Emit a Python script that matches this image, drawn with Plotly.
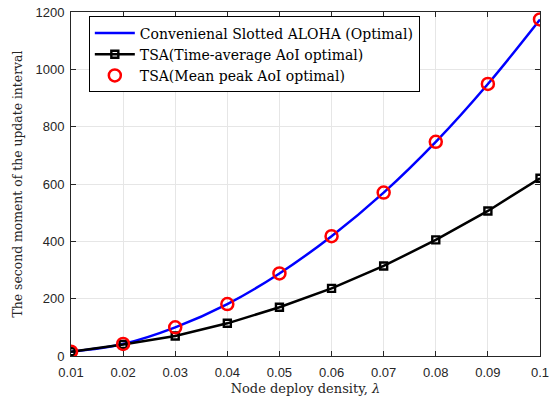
import plotly.graph_objects as go

lam = [0.01, 0.02, 0.03, 0.04, 0.05, 0.06, 0.07, 0.08, 0.09, 0.10]
aloha = [15, 42, 100, 181, 288, 418, 570, 747, 949, 1174]
tsa_avg = [15, 40, 70, 114, 170, 236, 314, 405, 506, 620]
tsa_peak = [15, 42, 100, 181, 288, 418, 570, 747, 949, 1174]
xtick_text = ["0.01", "0.02", "0.03", "0.04", "0.05", "0.06", "0.07", "0.08", "0.09", "0.1"]
ytick_vals = [0, 200, 400, 600, 800, 1000, 1200]

serif = "DejaVu Serif"
fig = go.Figure()
fig.add_trace(go.Scatter(x=lam, y=aloha, mode="lines", line=dict(color="#0000ff", width=2.5, shape="spline"),
                         name="Convenienal Slotted ALOHA (Optimal)"))
fig.add_trace(go.Scatter(x=lam, y=tsa_avg, mode="lines+markers", line=dict(color="black", width=2.5),
                         marker=dict(symbol="square-open", size=7, color="black", line=dict(width=2.4, color="black")),
                         name="TSA(Time-average AoI optimal)"))
fig.add_trace(go.Scatter(x=lam, y=tsa_peak, mode="markers",
                         marker=dict(symbol="circle-open", size=12, color="#ff0000", line=dict(width=2.5, color="#ff0000")),
                         name="TSA(Mean peak AoI optimal)"))

axis_common = dict(showline=True, linecolor="#262626", linewidth=1, mirror="ticks", ticks="inside", ticklen=5,
                   tickcolor="#262626", showgrid=True, gridcolor="#e6e6e6", gridwidth=1, zeroline=False,
                   automargin=False, tickfont=dict(family="Liberation Sans", size=13, color="#262626"))
fig.update_xaxes(range=[0.01, 0.1], tickvals=lam, ticktext=xtick_text, ticklabelstandoff=4,
                 title=dict(text="Node deploy density, <i>λ</i>", font=dict(family=serif, size=13, color="#262626"), standoff=5),
                 **axis_common)
fig.update_yaxes(range=[0, 1200], tickvals=ytick_vals, ticklabelstandoff=3,
                 title=dict(text="The second moment of the update interval", font=dict(family=serif, size=12.4, color="#262626"), standoff=10),
                 **axis_common)
fig.update_layout(width=551, height=401, margin=dict(l=71, r=11, t=12, b=45),
                  plot_bgcolor="white", paper_bgcolor="white", showlegend=True,
                  legend=dict(x=0.038, y=0.987, xanchor="left", yanchor="top", bgcolor="white", bordercolor="black", borderwidth=1,
                              font=dict(family=serif, size=14, color="black"), tracegroupgap=0, itemwidth=40))
fig.write_html("out.html")
